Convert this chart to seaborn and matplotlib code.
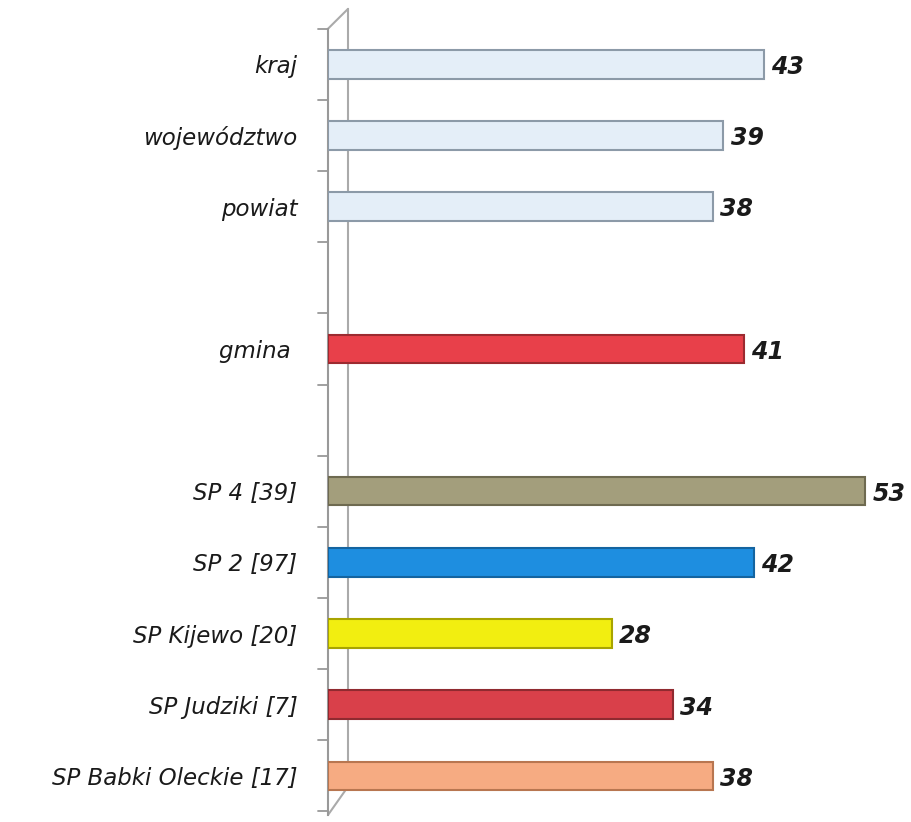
import matplotlib
matplotlib.use("Agg")
import matplotlib.pyplot as plt
import seaborn as sns
import pandas as pd
import numpy as np

categories = ["kraj", "województwo", "powiat", " ", "gmina ", "  ",
              "SP 4 [39]", "SP 2 [97]", "SP Kijewo [20]", "SP Judziki [7]",
              "SP Babki Oleckie [17]"]
values = [43, 39, 38, np.nan, 41, np.nan, 53, 42, 28, 34, 38]
colors = ["#e4eef8", "#e4eef8", "#e4eef8", "#ffffff", "#e8404a", "#ffffff",
          "#a39e7c", "#1e8ee0", "#f2ee10", "#d9404a", "#f6ab82"]
edge_colors = ["#8c9aa8", "#8c9aa8", "#8c9aa8", "#ffffff", "#9c2a30", "#ffffff",
               "#6e6a50", "#1464a0", "#a8a400", "#902a30", "#b87650"]

sns.set_theme(style="white")
plt.rcParams['font.family'] = ['DejaVu Sans']

df = pd.DataFrame({"cat": categories, "val": values})
df_bars = df.dropna()

fig = plt.figure(figsize=(9.11, 8.22), dpi=100)
ax = fig.add_axes([0.36, 0.0085, 0.63, 0.9565])

pal = dict(zip(categories, colors))
sns.barplot(data=df_bars, y="cat", x="val", order=categories, hue="cat",
            palette=pal, legend=False, width=0.4, orient="h", ax=ax,
            saturation=1.0, zorder=3)
for patch, ec in zip(ax.patches, [e for e, v in zip(edge_colors, values) if not np.isnan(v)]):
    patch.set_edgecolor(ec)
    patch.set_linewidth(1.5)
    patch.set_zorder(3)

ax.set_xlim(0, 56.6)
ax.set_ylim(10.55, -0.5)
ax.set_xlabel("")
ax.set_ylabel("")
ax.set_xticks([])

ax.set_yticks(np.arange(len(categories)))
ax.set_yticklabels(categories, fontsize=16.5, style="italic", color="#1a1a1a")
ax.tick_params(axis="y", length=0, pad=22)
for b in np.arange(-0.5, len(categories), 1.0):
    ax.plot([-0.018, 0], [b, b], transform=ax.get_yaxis_transform(),
            color="#999999", lw=1.3, clip_on=False)

# back wall line of the 3D frame
ax.plot([0.035, 0.035], [-0.78, 10.15], transform=ax.get_yaxis_transform(),
        color="#aaaaaa", lw=1.5, clip_on=False, zorder=1)
ax.plot([0.0, 0.035], [-0.5, -0.78], transform=ax.get_yaxis_transform(),
        color="#aaaaaa", lw=1.5, clip_on=False, zorder=1)
ax.plot([0.0, 0.035], [10.55, 10.15], transform=ax.get_yaxis_transform(),
        color="#aaaaaa", lw=1.5, clip_on=False, zorder=1)

for s in ["top", "right", "bottom"]:
    ax.spines[s].set_visible(False)
ax.spines["left"].set_color("#999999")
ax.spines["left"].set_linewidth(1.5)

for cat, v in zip(categories, values):
    if np.isnan(v):
        continue
    i = categories.index(cat)
    ax.text(v + 0.7, i + 0.04, f"{int(v)}", va="center", ha="left", fontsize=17,
            fontweight="bold", style="italic", color="#1a1a1a")

fig.savefig("out.png", dpi=100)
